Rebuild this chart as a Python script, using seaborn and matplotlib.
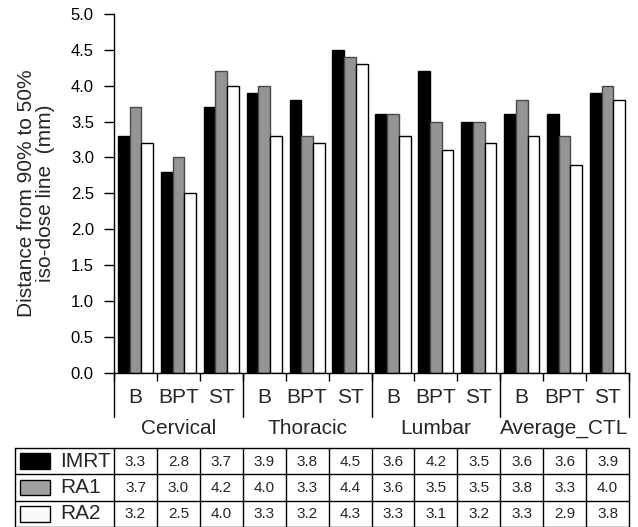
import numpy as np
import pandas as pd
import matplotlib
matplotlib.use("Agg")
import matplotlib.pyplot as plt
from matplotlib.patches import Rectangle
import seaborn as sns

# ---------------- data ----------------
regions = ["Cervical", "Thoracic", "Lumbar", "Average_CTL"]
subcats = ["B", "BPT", "ST"]
series = ["IMRT", "RA1", "RA2"]
imrt = [3.3, 2.8, 3.7, 3.9, 3.8, 4.5, 3.6, 4.2, 3.5, 3.6, 3.6, 3.9]
ra1 = [3.7, 3.0, 4.2, 4.0, 3.3, 4.4, 3.6, 3.5, 3.5, 3.8, 3.3, 4.0]
ra2 = [3.2, 2.5, 4.0, 3.3, 3.2, 4.3, 3.3, 3.1, 3.2, 3.3, 2.9, 3.8]
y_ticks = [0.0, 0.5, 1.0, 1.5, 2.0, 2.5, 3.0, 3.5, 4.0, 4.5, 5.0]

# ---------------- styling ----------------
sns.set_style("ticks")
plt.rcParams["font.family"] = ["Liberation Sans", "DejaVu Sans"]

fills = {"IMRT": "#000000", "RA1": "#949494", "RA2": "#ffffff"}
edges = {"IMRT": "#000000", "RA1": "#4a4a4a", "RA2": "#000000"}
swatch_fill = {"IMRT": "#000000", "RA1": "#a0a0a0", "RA2": "#fafafa"}

keys = [f"{r}|{s}" for r in regions for s in subcats]
values = {"IMRT": imrt, "RA1": ra1, "RA2": ra2}
rows = []
for name in series:
    for k, v in zip(keys, values[name]):
        rows.append({"key": k, "series": name, "value": v})
df = pd.DataFrame(rows)

W, H = 638, 527
fig = plt.figure(figsize=(W / 100, H / 100), dpi=100)
ax_l, ax_r, ax_t, ax_b = 114, 629, 14, 372.7
ax = fig.add_axes([ax_l / W, (H - ax_b) / H, (ax_r - ax_l) / W, (ax_b - ax_t) / H])

sns.barplot(data=df, x="key", y="value", hue="series", order=keys,
            hue_order=series, palette=fills, width=0.82, legend=False,
            errorbar=None, ax=ax, saturation=1)
for cont, name in zip(ax.containers, series):
    for p in cont:
        p.set_edgecolor(edges[name])
        p.set_linewidth(1.0)

ax.set_xlim(-0.5, len(keys) - 0.5)
ax.set_ylim(0, 5)
ax.set_yticks(y_ticks)
ax.set_yticklabels([f"{t:.1f}" for t in y_ticks], fontsize=12)
ax.tick_params(axis="y", direction="out", length=7.5, width=1, pad=7, colors="#000000")
for s in ["top", "right"]:
    ax.spines[s].set_visible(False)
for s in ["left", "bottom"]:
    ax.spines[s].set_linewidth(1.0)
    ax.spines[s].set_color("#000000")

# x ticks: boundaries short ticks, labels at centers
n = len(keys)
ax.set_xticks(np.arange(-0.5, n, 1.0))
ax.set_xticklabels([])
ax.tick_params(axis="x", which="major", direction="out", length=6, width=1, colors="#000000")
ax.set_xticks(np.arange(n), minor=True)
ax.set_xticklabels([k.split("|")[1] for k in keys], minor=True, fontsize=15)
ax.tick_params(axis="x", which="minor", length=0, pad=11)
ax.set_xlabel("")

# group separators and group labels
trans = ax.get_xaxis_transform()
for g in range(len(regions) + 1):
    xb = g * 3 - 0.5
    ax.plot([xb, xb], [0, -(417 - ax_b) / (ax_b - ax_t)], color="#000000",
            lw=1.0, transform=trans, clip_on=False)
for g, r in enumerate(regions):
    ax.text(g * 3 + 1, -(429 - ax_b) / (ax_b - ax_t), r, transform=trans,
            ha="center", va="center", fontsize=15)

ax.set_ylabel("Distance from 90% to 50%\niso-dose line  (mm)", fontsize=15,
              linespacing=1.0)
ax.yaxis.set_label_coords((55 - ax_l) / (ax_r - ax_l), 0.5)

# ---------------- data table ----------------
tb_l, tb_r, tb_t, tb_b = 15, 629, 448, 527
tax = fig.add_axes([tb_l / W, (H - tb_b) / H, (tb_r - tb_l) / W, (tb_b - tb_t) / H])
colw = (ax_r - ax_l) / n
x0 = -0.5 - (ax_l - tb_l) / colw
tax.set_xlim(x0, n - 0.5)
tax.set_ylim(3, 0)
tax.axis("off")
lw = 1.0
for yy in [0, 1, 2, 3]:
    tax.plot([x0, n - 0.5], [yy, yy], color="#000000", lw=lw, clip_on=False)
for xx in [x0] + list(np.arange(-0.5, n, 1.0)):
    tax.plot([xx, xx], [0, 3], color="#000000", lw=lw, clip_on=False)
sw_x = x0 + 5 / colw
sw_w = 30 / colw
for i, name in enumerate(series):
    tax.add_patch(Rectangle((sw_x, i + 0.2), sw_w, 0.6, facecolor=swatch_fill[name],
                            edgecolor="#000000", lw=1.0))
    tax.text(x0 + 45 / colw, i + 0.5, name, ha="left", va="center", fontsize=15)
    for j, v in enumerate(values[name]):
        tax.text(j, i + 0.52, f"{v:.1f}", ha="center", va="center", fontsize=11)

fig.savefig("out.png", dpi=100)
